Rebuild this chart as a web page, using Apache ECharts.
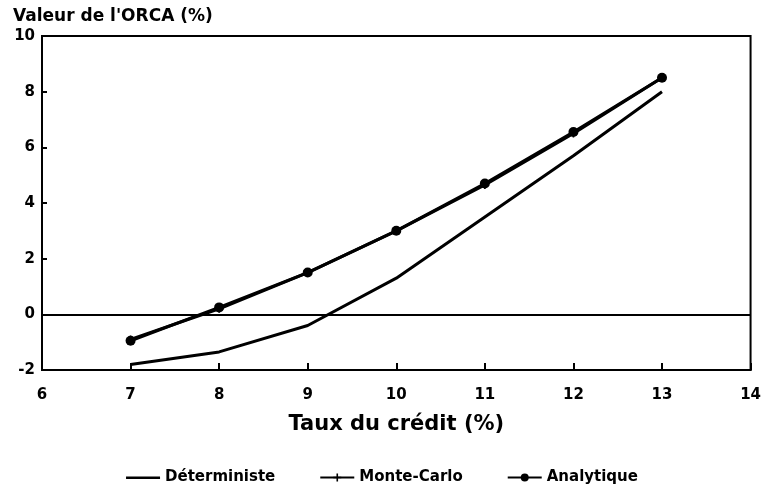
<!DOCTYPE html>
<html>
<head>
<meta charset="utf-8">
<script src="https://cdn.jsdelivr.net/npm/echarts@6/dist/echarts.min.js"></script>
<style>
  html, body { margin: 0; padding: 0; background: #fff; }
  #chart { width: 764px; height: 489px; }
</style>
</head>
<body>
<div id="chart"></div>
<script>
// taux du crédit (%)
const taux = [7, 8, 9, 10, 11, 12, 13];
const deterministe = [-1.8, -1.35, -0.4, 1.3, 3.5, 5.7, 8.0];
const monteCarlo = [-0.9, 0.2, 1.5, 3.0, 4.65, 6.5, 8.5];
const analytique = [-0.95, 0.25, 1.5, 3.0, 4.7, 6.55, 8.5];

const font = '"DejaVu Sans", sans-serif';
const pairs = (ys) => taux.map((x, i) => [x, ys[i]]);

// plain line icon for the legend (tiny end strokes fix the bounding box)
const lineIcon = 'path://M0,0L0.01,0M0,4H34V6.5H0ZM0,10L0.01,10';

const chart = echarts.init(document.getElementById('chart'));

const option = {
  animation: false,
  backgroundColor: '#fff',
  textStyle: { fontFamily: font },
  title: {
    text: "Valeur de l'ORCA (%)",
    left: 8,
    top: 3,
    textStyle: { fontSize: 17, fontWeight: 'bold', color: '#000', fontFamily: font }
  },
  grid: {
    left: 42, right: 10, top: 36, bottom: 119,
    show: true, borderColor: '#000', borderWidth: 2, backgroundColor: 'transparent'
  },
  legend: {
    bottom: -1,
    left: 'center',
    itemGap: 44,
    itemWidth: 34,
    itemHeight: 10,
    textStyle: { fontSize: 15, fontWeight: 'bold', color: '#000', fontFamily: font },
    data: [
      { name: 'Déterministe', icon: lineIcon },
      'Monte-Carlo',
      'Analytique'
    ]
  },
  xAxis: {
    type: 'value',
    min: 6, max: 14, interval: 1,
    name: 'Taux du crédit (%)',
    nameLocation: 'middle',
    nameGap: 44,
    nameTextStyle: { fontSize: 21, fontWeight: 'bold', color: '#000', fontFamily: font },
    axisLine: { onZero: false, lineStyle: { color: '#000', width: 2 } },
    axisTick: { show: true, inside: true, length: 7, lineStyle: { color: '#000', width: 2 } },
    axisLabel: { fontSize: 15, fontWeight: 'bold', color: '#000', margin: 18, fontFamily: font },
    splitLine: { show: false }
  },
  yAxis: {
    type: 'value',
    min: -2, max: 10, interval: 2,
    axisLine: { show: true, lineStyle: { color: '#000', width: 2 } },
    axisTick: { show: true, inside: true, length: 5, lineStyle: { color: '#000', width: 2 } },
    axisLabel: { fontSize: 15, fontWeight: 'bold', color: '#000', margin: 7, fontFamily: font },
    splitLine: { show: false }
  },
  series: [
    {
      name: 'Déterministe',
      type: 'line',
      data: pairs(deterministe),
      symbol: 'none',
      lineStyle: { color: '#000', width: 3 },
      itemStyle: { color: '#000' },
      markLine: {
        silent: true,
        symbol: 'none',
        label: { show: false },
        lineStyle: { color: '#000', width: 2, type: 'solid' },
        data: [{ yAxis: 0 }]
      }
    },
    {
      name: 'Monte-Carlo',
      type: 'line',
      data: pairs(monteCarlo),
      symbol: 'path://M4,0H6V4H10V6H6V10H4V6H0V4H4Z',
      symbolSize: 8,
      showSymbol: true,
      lineStyle: { color: '#000', width: 3 },
      itemStyle: { color: '#000' }
    },
    {
      name: 'Analytique',
      type: 'line',
      data: pairs(analytique),
      symbol: 'circle',
      symbolSize: 10,
      lineStyle: { color: '#000', width: 3 },
      itemStyle: { color: '#000' }
    }
  ]
};

chart.setOption(option);
</script>
</body>
</html>
